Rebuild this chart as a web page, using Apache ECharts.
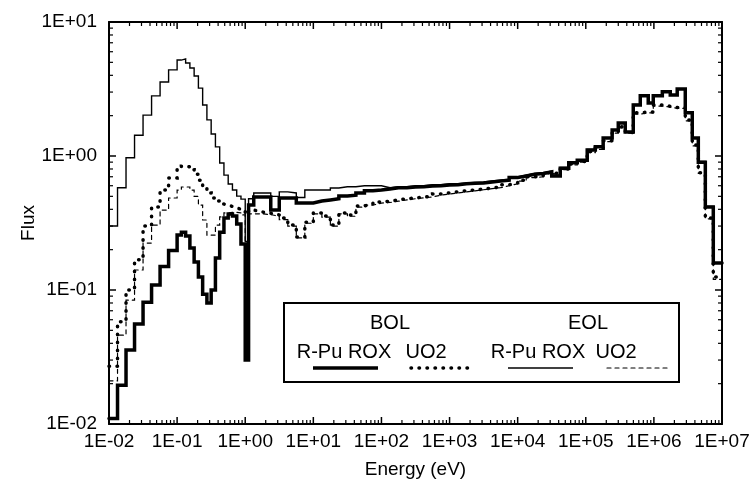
<!DOCTYPE html>
<html>
<head>
<meta charset="utf-8">
<script src="https://cdn.jsdelivr.net/npm/echarts@6/dist/echarts.min.js"></script>
<style>
html,body{margin:0;padding:0;background:#fff;}
#chart{width:749px;height:483px;}
</style>
</head>
<body>
<div id="chart"></div>
<script>
// Energy group lower edges (eV)
var energyEdges = [
  0.01, 0.01334, 0.01778, 0.02371, 0.03162, 0.04217, 0.05623, 0.07499,
  0.1, 0.1155, 0.1334, 0.154, 0.1778, 0.2054, 0.2371, 0.2738, 0.3162, 0.3652, 0.4217, 0.487, 0.5623, 0.6494, 0.7499, 0.866,
  1.0, 1.12,
  1.334, 1.778, 2.371, 3.162, 4.217, 5.623, 7.499, 10, 13.34, 17.78, 23.71, 31.62, 42.17, 56.23, 74.99,
  100, 133.4, 177.8, 237.1, 316.2, 421.7, 562.3, 749.9, 1000, 1334, 1778, 2371, 3162, 4217, 5623, 7499,
  10000, 13340, 17780, 23710, 31620, 42170, 56230, 74990,
  105000, 138000, 180000, 244000, 300000, 380000, 498000, 631000, 826000, 979000,
  1330000, 1740000, 2200000, 2890000, 3660000, 4490000, 5690000, 7450000
];
var energyMax = 1e7;

// BOL R-Pu ROX
var bolRPu = [
  0.011, 0.0195, 0.0356, 0.0557, 0.081, 0.109, 0.150, 0.197,
  0.257, 0.27, 0.253, 0.206, 0.162, 0.125, 0.093, 0.080, 0.10, 0.173, 0.27, 0.345, 0.369, 0.356, 0.311, 0.22,
  0.030, 0.43,
  0.494, 0.494, 0.395, 0.486, 0.486, 0.446, 0.446, 0.461, 0.47, 0.48, 0.502, 0.51, 0.53, 0.55, 0.557,
  0.567, 0.58, 0.58, 0.587, 0.59, 0.597, 0.60, 0.608, 0.61, 0.62, 0.625, 0.63, 0.64, 0.65, 0.66, 0.69,
  0.71, 0.73, 0.74, 0.76, 0.71, 0.81, 0.89, 0.93,
  1.11, 1.17, 1.36, 1.56, 1.76, 1.51, 2.40, 2.81, 2.49, 2.81,
  3.01, 2.85, 3.16, 2.10, 1.36, 0.90, 0.416, 0.159
];
// BOL UO2
var bolUO2 = [
  0.027, 0.058, 0.10, 0.168, 0.30, 0.416, 0.557, 0.685,
  0.81, 0.84, 0.83, 0.79, 0.73, 0.66, 0.577, 0.53, 0.486, 0.461, 0.438, 0.43, 0.42, 0.41, 0.40, 0.395,
  0.37, 0.395,
  0.382, 0.374, 0.363, 0.344, 0.305, 0.249, 0.321, 0.376, 0.356, 0.305, 0.376, 0.363, 0.424, 0.438, 0.454,
  0.46, 0.47, 0.48, 0.486, 0.494, 0.50, 0.52, 0.53, 0.54, 0.55, 0.557, 0.567, 0.577, 0.587, 0.61, 0.63,
  0.66, 0.70, 0.71, 0.75, 0.74, 0.80, 0.87, 0.91,
  1.08, 1.14, 1.30, 1.50, 1.65, 1.50, 2.10, 2.13, 2.13, 2.40,
  2.35, 2.30, 2.30, 1.86, 1.21, 0.75, 0.344, 0.125
];
// EOL R-Pu ROX
var eolRPu = [
  0.30, 0.58, 0.97, 1.43, 2.02, 2.81, 3.57, 4.39,
  5.2, 5.3, 4.94, 4.54, 3.95, 3.21, 2.40, 1.86, 1.46, 1.17, 0.887, 0.72, 0.618, 0.557, 0.502, 0.477,
  0.23, 0.48,
  0.53, 0.53, 0.50, 0.54, 0.53, 0.49, 0.557, 0.557, 0.557, 0.577, 0.59, 0.59, 0.60, 0.60, 0.60,
  0.58, 0.59, 0.59, 0.60, 0.60, 0.61, 0.61, 0.62, 0.62, 0.63, 0.635, 0.64, 0.65, 0.66, 0.67, 0.70,
  0.72, 0.74, 0.75, 0.77, 0.72, 0.82, 0.90, 0.94,
  1.12, 1.18, 1.37, 1.57, 1.77, 1.52, 2.42, 2.83, 2.50, 2.83,
  3.03, 2.87, 3.18, 2.12, 1.37, 0.91, 0.42, 0.16
];
// EOL UO2
var eolUO2 = [
  0.021, 0.046, 0.084, 0.141, 0.224, 0.305, 0.395, 0.486,
  0.557, 0.587, 0.587, 0.557, 0.50, 0.43, 0.333, 0.257, 0.257, 0.305, 0.351, 0.376, 0.38, 0.38, 0.376, 0.363,
  0.22, 0.37,
  0.37, 0.365, 0.355, 0.335, 0.30, 0.245, 0.315, 0.37, 0.35, 0.30, 0.37, 0.355, 0.415, 0.43, 0.445,
  0.45, 0.46, 0.47, 0.48, 0.487, 0.495, 0.51, 0.52, 0.53, 0.54, 0.55, 0.56, 0.57, 0.58, 0.60, 0.62,
  0.65, 0.69, 0.70, 0.74, 0.73, 0.79, 0.86, 0.90,
  1.06, 1.12, 1.28, 1.48, 1.62, 1.48, 2.05, 2.10, 2.10, 2.36,
  2.32, 2.27, 2.27, 1.83, 1.19, 0.74, 0.34, 0.12
];

var xTickValues = [1e-2, 1e-1, 1e0, 1e1, 1e2, 1e3, 1e4, 1e5, 1e6, 1e7];
var xTickLabels = ['1E-02','1E-01','1E+00','1E+01','1E+02','1E+03','1E+04','1E+05','1E+06','1E+07'];
var yTickValues = [1e-2, 1e-1, 1e0, 1e1];
var yTickLabels = ['1E-02','1E-01','1E+00','1E+01'];
var minorMultipliers = [2,3,4,5,6,7,8,9];

function minorTicks(decades) {
  var out = [];
  for (var i = 0; i < decades.length - 1; i++) {
    for (var j = 0; j < minorMultipliers.length; j++) out.push(decades[i] * minorMultipliers[j]);
  }
  return out;
}
var xMinor = minorTicks(xTickValues);
var yMinor = minorTicks(yTickValues);

function stepData(vals) {
  var d = [];
  for (var i = 0; i < energyEdges.length; i++) d.push([energyEdges[i], vals[i]]);
  d.push([energyMax, vals[vals.length - 1]]);
  return d;
}

var FONT = '"Liberation Sans", Arial, Helvetica, sans-serif';
var black = '#000';

function mkX(pos, labels) {
  return {
    type: 'log', logBase: 10, min: 0.01, max: 1e7, position: pos,
    axisLine: { show: true, onZero: false, lineStyle: { color: black, width: 2 } },
    axisTick: { show: false },
    axisLabel: { show: labels, customValues: xTickValues, color: black, fontSize: 19, fontFamily: FONT, margin: 8,
      hideOverlap: false, showMinLabel: true, showMaxLabel: true,
      formatter: function (v) { return xTickLabels[Math.round(Math.log10(v)) + 2]; } },
    splitLine: { show: false }, minorTick: { show: false }
  };
}
function mkY(pos, labels) {
  return {
    type: 'log', logBase: 10, min: 0.01, max: 10, position: pos,
    axisLine: { show: true, onZero: false, lineStyle: { color: black, width: 2 } },
    axisTick: { show: false },
    axisLabel: { show: labels, customValues: yTickValues, color: black, fontSize: 19, fontFamily: FONT, margin: 12,
      formatter: function (v) { return yTickLabels[Math.round(Math.log10(v)) + 2]; } },
    splitLine: { show: false }, minorTick: { show: false }
  };
}

var xAxes = [mkX('bottom', true), mkX('top', false)];
xAxes[0].name = 'Energy (eV)';
xAxes[0].nameLocation = 'middle';
xAxes[0].nameGap = 36;
xAxes[0].nameMoveOverlap = false;
xAxes[0].nameTextStyle = { color: black, fontSize: 19, fontFamily: FONT };
var yAxes = [mkY('left', true), mkY('right', false)];
yAxes[0].name = 'Flux';
yAxes[0].nameLocation = 'middle';
yAxes[0].nameRotate = 90;
yAxes[0].nameGap = 71;
yAxes[0].nameMoveOverlap = false;
yAxes[0].nameTextStyle = { color: black, fontSize: 19, fontFamily: FONT };

function mkSeries(name, vals, width, type, z) {
  return {
    name: name, type: 'line', step: 'end', data: stepData(vals), showSymbol: false, symbol: 'none',
    xAxisIndex: 0, yAxisIndex: 0, z: z,
    lineStyle: { color: black, width: width, type: type, cap: 'round', join: 'miter' },
    emphasis: { disabled: true }
  };
}

// Legend graphic
var LX = 284, LY = 303, LW = 395, LH = 79;
function legText(t, x, y) {
  return { type: 'text', x: x, y: y, style: { text: t, fill: black, font: '20px ' + FONT, align: 'center', verticalAlign: 'middle' }, z: 101 };
}
function segLine(x1, y1, x2, y2, w, dash, z) {
  return { type: 'line', silent: true, shape: { x1: x1, y1: y1, x2: x2, y2: y2 },
    style: { stroke: black, lineWidth: w, lineDash: dash, lineCap: dash ? 'round' : 'butt' }, z: z };
}
var legendGraphic = [
  { type: 'rect', shape: { x: LX, y: LY, width: LW, height: LH }, style: { fill: '#fff', stroke: black, lineWidth: 2 }, z: 100 },
  legText('BOL', 390, 323),
  legText('EOL', 588, 323),
  legText('R-Pu ROX', 344, 352),
  legText('UO2', 426, 352),
  legText('R-Pu ROX', 538, 352),
  legText('UO2', 616, 352),
  segLine(313, 368, 378, 368, 3.5, null, 101),
  segLine(411, 368, 473, 368, 3.5, [0.5, 7.5], 101),
  segLine(508, 368, 573, 368, 1.4, null, 101),
  segLine(607, 368, 668, 368, 1.2, [4, 4], 101)
];

var option = {
  animation: false,
  backgroundColor: '#fff',
  grid: { left: 109, right: 27, top: 22, bottom: 59, containLabel: false, outerBoundsMode: 'none' },
  xAxis: xAxes,
  yAxis: yAxes,
  series: [
    mkSeries('EOL UO2', eolUO2, 1.2, [4, 4], 2),
    mkSeries('EOL R-Pu ROX', eolRPu, 1.4, 'solid', 3),
    mkSeries('BOL UO2', bolUO2, 3.5, [0.5, 7.5], 4),
    mkSeries('BOL R-Pu ROX', bolRPu, 3.5, 'solid', 5)
  ]
};

var chart = echarts.init(document.getElementById('chart'), null, { renderer: 'canvas' });
chart.setOption(option);

// Axis ticks (inside, on all four sides), positioned through the chart's own scales
var xL = chart.convertToPixel({ xAxisIndex: 0 }, 0.01);
var xR = chart.convertToPixel({ xAxisIndex: 0 }, 1e7);
var yB = chart.convertToPixel({ yAxisIndex: 0 }, 0.01);
var yT = chart.convertToPixel({ yAxisIndex: 0 }, 10);
var tickGraphic = [];
var MAJ = 7, MIN = 4;
xTickValues.forEach(function (v) {
  var p = chart.convertToPixel({ xAxisIndex: 0 }, v);
  tickGraphic.push(segLine(p, yB, p, yB - MAJ, 1.5, null, 50));
  tickGraphic.push(segLine(p, yT, p, yT + MAJ, 1.5, null, 50));
});
xMinor.forEach(function (v) {
  var p = chart.convertToPixel({ xAxisIndex: 0 }, v);
  tickGraphic.push(segLine(p, yB, p, yB - MIN, 1.2, null, 50));
  tickGraphic.push(segLine(p, yT, p, yT + MIN, 1.2, null, 50));
});
yTickValues.forEach(function (v) {
  var p = chart.convertToPixel({ yAxisIndex: 0 }, v);
  tickGraphic.push(segLine(xL, p, xL + MAJ, p, 1.5, null, 50));
  tickGraphic.push(segLine(xR, p, xR - MAJ, p, 1.5, null, 50));
});
yMinor.forEach(function (v) {
  var p = chart.convertToPixel({ yAxisIndex: 0 }, v);
  tickGraphic.push(segLine(xL, p, xL + MIN, p, 1.2, null, 50));
  tickGraphic.push(segLine(xR, p, xR - MIN, p, 1.2, null, 50));
});

chart.setOption({ graphic: tickGraphic.concat(legendGraphic) });
</script>
</body>
</html>
